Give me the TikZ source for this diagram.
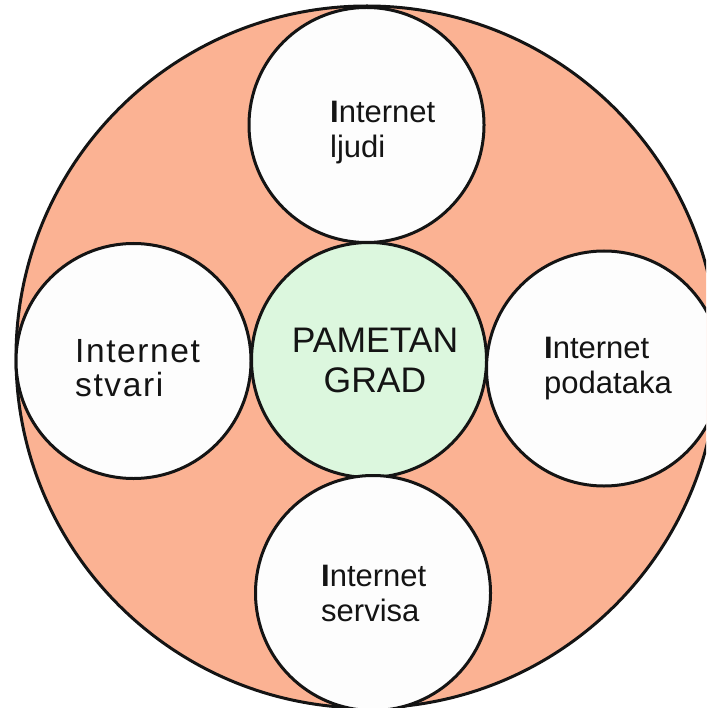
\documentclass[tikz,border=0pt]{standalone}
\usepackage{fontspec}
\setmainfont{Liberation Sans}
\newfontfamily\spacedfont[LetterSpace=4.8]{Liberation Sans}
\definecolor{salmon}{RGB}{251,178,147}
\definecolor{paleg}{RGB}{220,247,222}
\definecolor{offw}{RGB}{253,253,253}
\definecolor{ink}{RGB}{20,20,20}
\tikzset{
  ring/.style={circle, draw=ink, line width=3pt, inner sep=0pt},
  disc/.style={ring, fill=offw, minimum size=235pt},
  lbl/.style={anchor=base west, align=left, inner sep=0pt, text=ink,
              font=\fontsize{31}{35}\selectfont},
  clbl/.style={anchor=base, align=center, inner sep=0pt, text=ink,
              font=\fontsize{35.5}{40}\selectfont}
}
\begin{document}
\begin{tikzpicture}[x=1pt,y=-1pt]
\useasboundingbox (0,0) rectangle (706,708);
\begin{scope}
\clip (0,0) rectangle (706,708);
\node[ring, fill=salmon, minimum size=702pt] (outer) at (367,357) {};
\node[ring, fill=paleg, minimum size=235pt] (center) at (369,360) {};
\node[disc] (ljudi) at (366.5,125) {};
\node[disc] (stvari) at (133.5,361) {};
\node[disc] (podataka) at (604,368.5) {};
\node[disc] (servisa) at (373,593) {};
\end{scope}
\node[clbl] (tc) at (375,392) {PAMETAN\\GRAD};
\node[lbl] (t1) at (330,158) {\textbf{I}nternet\\ljudi};
\node[lbl, font=\spacedfont\fontsize{33.5}{34}\selectfont] (t2) at (75,396) {Internet\\stvari};
\node[lbl] (t3) at (544,393) {\textbf{I}nternet\\podataka};
\node[lbl] (t4) at (321,621) {\textbf{I}nternet\\servisa};
\end{tikzpicture}
\end{document}
